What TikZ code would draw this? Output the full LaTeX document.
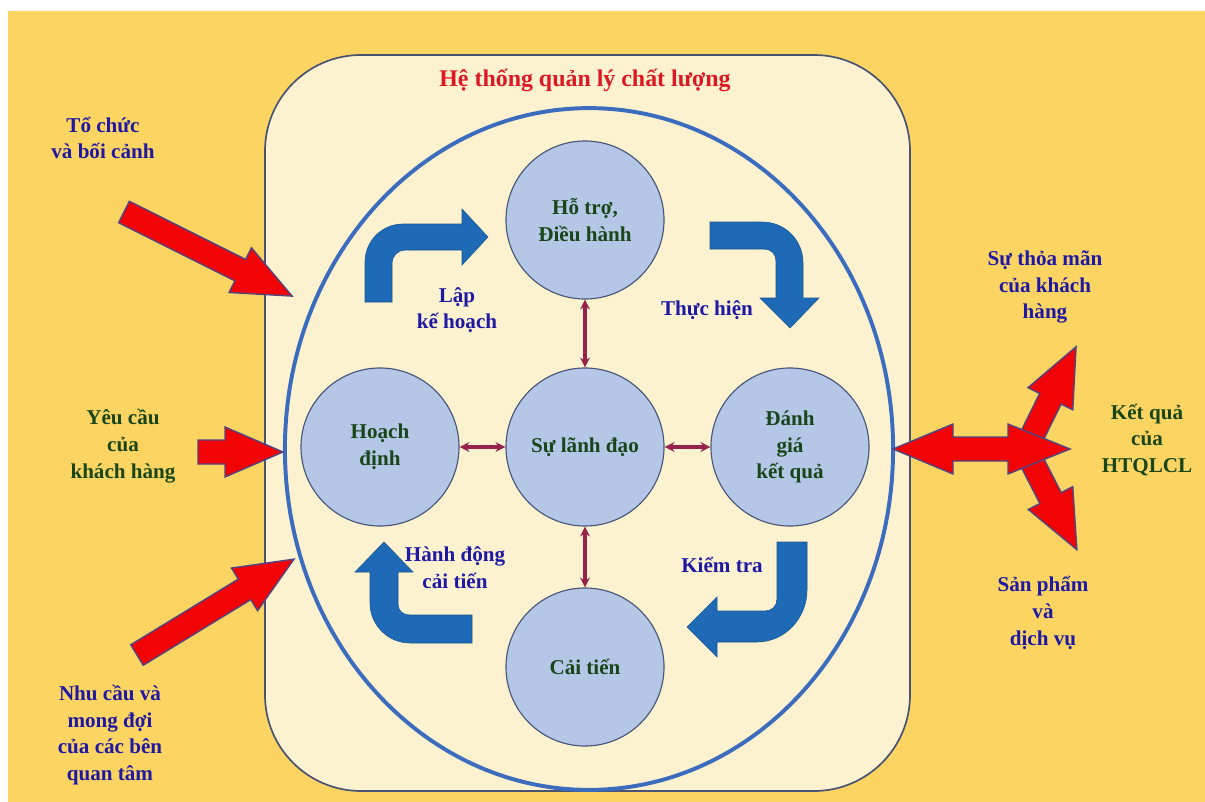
\documentclass[tikz,border=0pt]{standalone}
\usepackage{fontspec}
\setmainfont{Liberation Serif}
\usepackage{tikz}
\usetikzlibrary{arrows.meta}

\definecolor{bgyellow}{RGB}{252,212,98}
\definecolor{cream}{RGB}{253,242,208}
\definecolor{boxedge}{RGB}{72,82,115}
\definecolor{ringblue}{RGB}{59,108,190}
\definecolor{circlefill}{RGB}{180,199,231}
\definecolor{circleedge}{RGB}{70,85,120}
\definecolor{flowblue}{RGB}{30,106,182}
\definecolor{arrowred}{RGB}{242,4,4}
\definecolor{arrowedge}{RGB}{80,70,130}
\definecolor{linkred}{RGB}{150,35,75}
\definecolor{textblue}{RGB}{30,25,165}
\definecolor{textgreen}{RGB}{25,70,25}
\definecolor{titlered}{RGB}{220,25,35}

% red block arrow: tail point, angle, length
\newcommand{\blockarrow}[3]{%
  \begin{scope}[shift={(#1)}, rotate=#2]
    \filldraw[red_arrow] (0,-12) -- ({#3-58},-12) -- ({#3-58},-25) -- (#3,0)
      -- ({#3-58},25) -- ({#3-58},12) -- (0,12) -- cycle;
  \end{scope}}

\begin{document}
\begin{tikzpicture}[x=0.025cm, y=-0.025cm,
		node_style/.style={circle,draw=circleedge,fill=circlefill,line width=0.8pt,
			minimum size=3.95cm,inner sep=0pt,align=center,text=textgreen,
			font=\bfseries\fontsize{15}{19}\selectfont},
		blue_text/.style={align=center,text=textblue,font=\bfseries\fontsize{15}{19}\selectfont},
		green_text/.style={align=center,text=textgreen,font=\bfseries\fontsize{15}{19}\selectfont},
		red_arrow/.style={fill=arrowred,draw=arrowedge,line width=1pt,line join=miter},
		flow_style/.style={fill=flowblue,draw=flowblue!80!black,line width=0.4pt},
		edge_style/.style={draw=linkred,line width=2.2pt,<->,>={Stealth[length=7pt,width=7pt]}}]

		\useasboundingbox (0,0) rectangle (1205,802);
		\fill[white] (0,0) rectangle (1205,802);
		\fill[bgyellow] (8,11) rectangle (1205,802);

		% system box and ring
		\filldraw[fill=cream,draw=boxedge,line width=1.2pt,rounded corners=2.4cm]
			(265,55) rectangle (910,791);
		\draw[ringblue,line width=2.8pt] (589,449) ellipse [x radius=7.6cm, y radius=8.52cm];

		\node[text=titlered,font=\bfseries\fontsize{17}{20}\selectfont] (title) at (585,80) {Hệ thống quản lý chất lượng};

		% process circles
		\node[node_style] (support) at (585,220) {Hỗ trợ,\\Điều hành};
		\node[node_style] (lead) at (585,447) {Sự lãnh đạo};
		\node[node_style] (plan) at (380,447) {Hoạch\\định};
		\node[node_style] (check) at (790,447) {Đánh\\giá\\kết quả};
		\node[node_style] (improve) at (585,667) {Cải tiến};

		\draw[edge_style] (lead) edge (support);
		\draw[edge_style] (lead) edge (plan);
		\draw[edge_style] (lead) edge (check);
		\draw[edge_style] (lead) edge (improve);

		% PDCA flow arrows
		\filldraw[flow_style] (365,302) -- (365,262) .. controls (365,241) and (382,224) .. (403,224)
			-- (462,224) -- (462,209) -- (488,237) -- (462,265) -- (462,250) -- (405,250)
			.. controls (398,250) and (392,256) .. (392,263) -- (392,302) -- cycle;
		\filldraw[flow_style] (710,222) -- (762,222) .. controls (785,222) and (803,240) .. (803,263)
			-- (803,298) -- (819,298) -- (790,328) -- (760,298) -- (776,298) -- (776,261)
			.. controls (776,254) and (771,249) .. (764,249) -- (710,249) -- cycle;
		\filldraw[flow_style] (777,542) -- (807,542) -- (807,590) .. controls (807,618) and (785,642) .. (757,642)
			-- (717,642) -- (717,657) -- (687,627) -- (717,597) -- (717,611) -- (765,611)
			.. controls (772,611) and (777,606) .. (777,599) -- cycle;
		\filldraw[flow_style] (472,643) -- (410,643) .. controls (388,643) and (370,625) .. (370,603)
			-- (370,572) -- (355,572) -- (384,542) -- (413,572) -- (398,572) -- (398,604)
			.. controls (398,611) and (403,615) .. (410,615) -- (472,615) -- cycle;

		\node[blue_text] (planlbl) at (457,310) {Lập\\kế hoạch};
		\node[blue_text] (dolbl) at (707,310) {Thực hiện};
		\node[blue_text] (checklbl) at (722,565) {Kiểm tra};
		\node[blue_text] (actlbl) at (455,568) {Hành động\\cải tiến};

		% inputs
		\blockarrow{124,212}{-26.57}{188}
		\blockarrow{198,452}{0}{85}
		\blockarrow{137,655}{31.4}{184}

		\node[blue_text] (context) at (103,138) {Tổ chức\\và bối cảnh};
		\node[green_text] (needs) at (123,446) {Yêu cầu\\của\\khách hàng};
		\node[blue_text] (parties) at (110,735) {Nhu cầu và\\mong đợi\\của các bên\\quan tâm};

		% outputs
		\blockarrow{1030,440}{63.7}{104}
		\blockarrow{1030,458}{-62.9}{103}
		\filldraw[red_arrow] (893,449) -- (953,424) -- (953,437) -- (1008,437) -- (1008,424) -- (1070,449)
			-- (1008,474) -- (1008,461) -- (953,461) -- (953,474) -- cycle;

		\node[blue_text] (satisfy) at (1045,287) {Sự thỏa mãn\\của khách\\hàng};
		\node[green_text] (result) at (1147,440) {Kết quả\\của\\HTQLCL};
		\node[blue_text] (product) at (1043,613) {Sản phẩm\\và\\dịch vụ};
		\end{tikzpicture}
\end{document}
